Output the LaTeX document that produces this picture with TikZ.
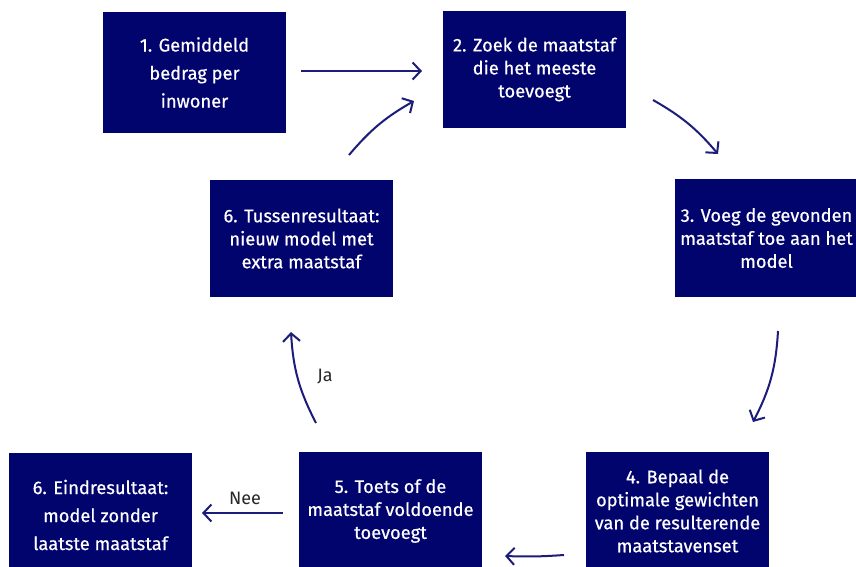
\documentclass[tikz,border=0pt]{standalone}
\usepackage{fontspec}
\setmainfont{Fira Sans}[FakeBold=0.5]
\newfontfamily\lblfont{Fira Sans}
\usetikzlibrary{arrows.meta}
\definecolor{navy}{RGB}{2,4,110}
\definecolor{arrowc}{RGB}{28,28,122}
\definecolor{lblc}{RGB}{40,40,40}
\begin{document}
\begin{tikzpicture}[x=1pt,y=-1pt,
  stepbox/.style={fill=navy,draw=none,minimum width=183pt,minimum height=118pt,
    align=center,text=white,inner sep=0pt,font=\fontsize{18.3}{23}\selectfont},
  widebox/.style={stepbox,font=\fontsize{18.3}{28}\selectfont},
  conn/.style={draw=arrowc,line width=2pt,-{Straight Barb[length=8pt,width=17pt,line width=2pt]}},
  lbl/.style={text=lblc,font=\lblfont\fontsize{18}{20}\selectfont}]
\useasboundingbox (0,0) rectangle (856,567);
\fill[white] (0,0) rectangle (856,567);
\node[widebox,minimum height=121pt] (b1) at (194.5,72.5) {1. Gemiddeld\\bedrag per\\inwoner};
\node[stepbox,minimum height=117pt] (b2) at (534.5,69.5) {2. Zoek de maatstaf\\die het meeste\\toevoegt};
\node[stepbox] (b3) at (766.5,238) {3. Voeg de gevonden\\maatstaf toe aan het\\model};
\node[stepbox,minimum height=117pt] (b6a) at (301.5,238.5) {6. Tussenresultaat:\\nieuw model met\\extra maatstaf};
\node[stepbox] (b4) at (677.5,511) {4. Bepaal de\\optimale gewichten\\van de resulterende\\maatstavenset};
\node[stepbox] (b5) at (390.5,511) {5. Toets of de\\maatstaf voldoende\\toevoegt};
\node[widebox,minimum height=124pt] (b6b) at (100.5,515) {6. Eindresultaat:\\model zonder\\laatste maatstaf};
% connector ends
\coordinate (s12) at (301,71);  \coordinate (e12) at (422,71);
\coordinate (s23) at (653,100); \coordinate (e23) at (718,154);
\coordinate (s34) at (778,331); \coordinate (e34) at (753,422);
\coordinate (s45) at (564,555); \coordinate (e45) at (505,556);
\coordinate (s56) at (283,513); \coordinate (e56) at (202,513);
\coordinate (s5j) at (316,423); \coordinate (e5j) at (291,332);
\coordinate (s62) at (349,155); \coordinate (e62) at (414,101);
\draw[conn] (s12) -- (e12);
\draw[conn] (s23) to[bend left=10] (e23);
\draw[conn] (s34) to[bend left=12] (e34);
\draw[conn] (s45) to[bend left=3] (e45);
\draw[conn] (s56) -- (e56);
\draw[conn] (s5j) to[bend left=12] (e5j);
\draw[conn] (s62) to[bend left=10] (e62);
\node[lbl] (nee) at (245,498) {Nee};
\node[lbl] (ja) at (325,377) {Ja};
\end{tikzpicture}
\end{document}
